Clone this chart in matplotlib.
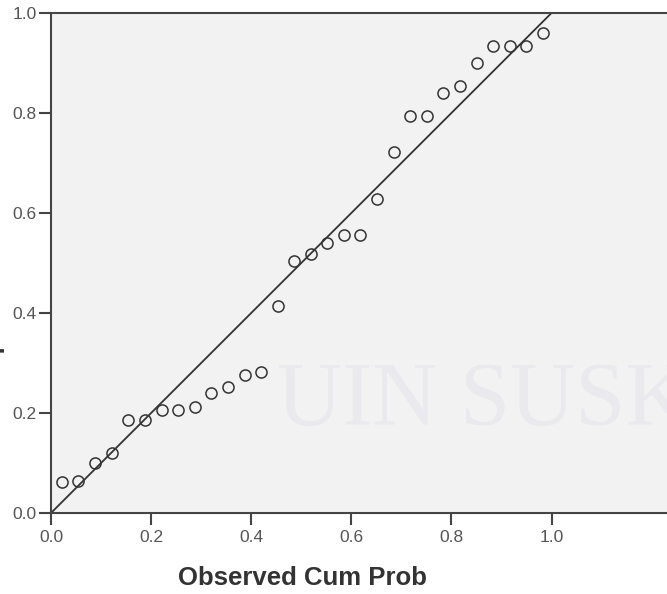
import matplotlib
matplotlib.use("Agg")
import matplotlib.pyplot as plt
import numpy as np

# Observed cumulative probabilities (Blom positions, n = 30)
observed = [0.021, 0.054, 0.088, 0.121, 0.154, 0.187, 0.221, 0.254, 0.287, 0.320,
            0.353, 0.387, 0.420, 0.453, 0.486, 0.519, 0.552, 0.585, 0.618, 0.652,
            0.685, 0.718, 0.751, 0.784, 0.817, 0.851, 0.884, 0.917, 0.950, 0.983]
# Expected cumulative probabilities
expected = [0.062, 0.064, 0.101, 0.120, 0.186, 0.186, 0.206, 0.206, 0.212, 0.240,
            0.252, 0.276, 0.283, 0.415, 0.504, 0.518, 0.541, 0.556, 0.556, 0.629,
            0.723, 0.794, 0.794, 0.840, 0.854, 0.900, 0.934, 0.934, 0.934, 0.960]
ref_line = [0.0, 1.0]
ticks = [0.0, 0.2, 0.4, 0.6, 0.8, 1.0]
tick_labels = ["0.0", "0.2", "0.4", "0.6", "0.8", "1.0"]

W, H = 667, 594
fig = plt.figure(figsize=(W / 100, H / 100), dpi=100)
fig.patch.set_facecolor("white")
left, bottom, top = 51 / W, 1 - 513 / H, 1 - 13 / H
ax = fig.add_axes([left, bottom, 1 - left, top - bottom])
ax.set_facecolor("#f2f2f2")

# faint watermark text (cut at the right edge, as in the reference)
ax.text(0.367, 0.176, "UIN SUSKA", transform=ax.transAxes, fontsize=65,
        family="Liberation Serif", color="#e9e9ee", ha="left", va="baseline",
        zorder=0.5, clip_on=True)

ax.plot(ref_line, ref_line, color="#333333", lw=1.3, zorder=2)
ax.plot(observed, expected, linestyle="none", marker="o", markersize=8,
        markerfacecolor="none", markeredgecolor="#333333", markeredgewidth=1.1,
        zorder=3)

xmax = (W - 51) / 500.5
ax.set_xlim(0, xmax)
ax.set_ylim(0, 1.0)
ax.set_xticks(ticks)
ax.set_xticklabels(tick_labels)
ax.set_yticks(ticks)
ax.set_yticklabels(tick_labels)

for s in ["left", "bottom", "top"]:
    ax.spines[s].set_color("#444444")
    ax.spines[s].set_linewidth(1.5)
ax.spines["right"].set_visible(False)
ax.tick_params(axis="both", direction="out", length=8.5, width=1.5,
               color="#444444", labelcolor="#555555", labelsize=12.5,
               labelfontfamily="Liberation Sans")
ax.tick_params(axis="x", pad=4)
ax.tick_params(axis="y", pad=2)

fig.text(0.5 * (177 + 427) / W, 1 - 578 / H, "Observed Cum Prob",
         family="Liberation Sans", fontweight="bold", fontsize=18.5,
         color="#333333", ha="center", va="center")
fig.text(5 / W, 1 - 263 / H, "Expected Cum Prob", family="Liberation Sans",
         fontweight="bold", fontsize=18.5, color="#333333", rotation=90,
         ha="right", va="center")

fig.savefig("out.png", dpi=100)
